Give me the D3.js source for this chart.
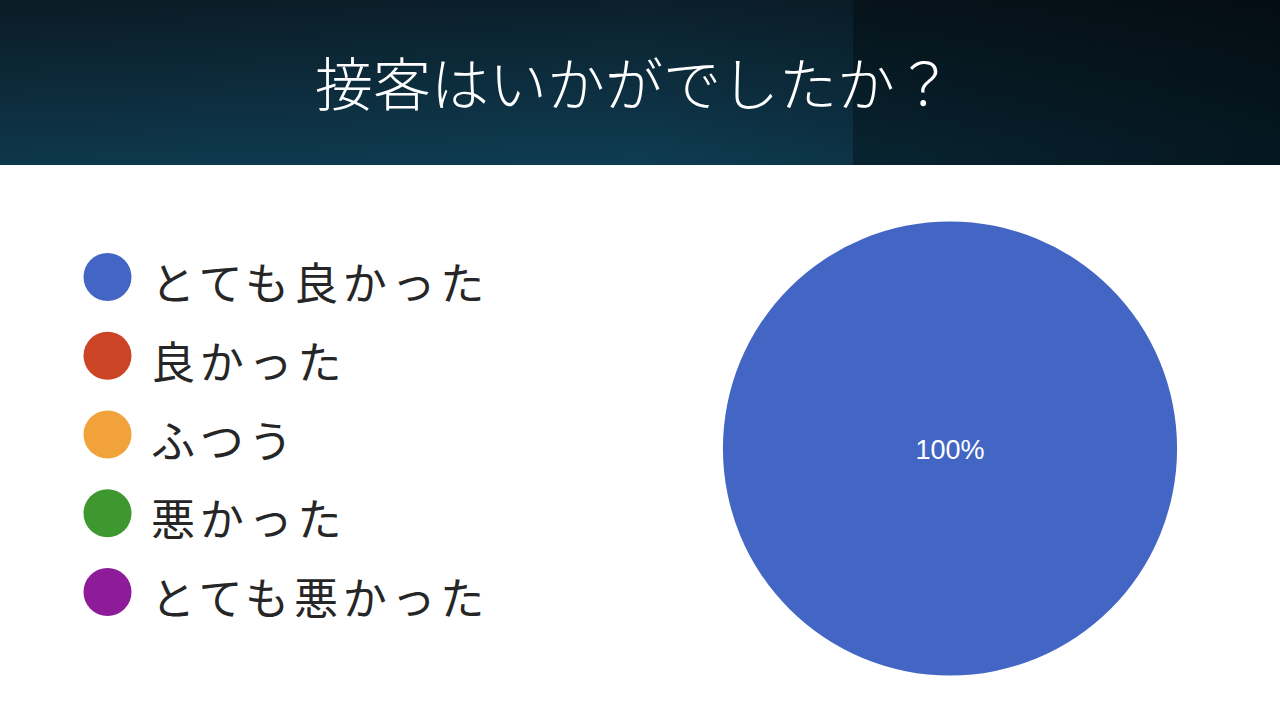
<!DOCTYPE html>
<html>
<head>
<meta charset="utf-8">
<script src="https://cdn.jsdelivr.net/npm/d3@7"></script>
<style>
  html, body { margin: 0; padding: 0; background: #ffffff; }
  svg { display: block; }
</style>
</head>
<body>
<svg id="chart" width="1280" height="720"></svg>
<script>
const title = "接客はいかがでしたか？";
const categories = ["とても良かった", "良かった", "ふつう", "悪かった", "とても悪かった"];
const values = [100, 0, 0, 0, 0];
const colors = ["#4366c4", "#cc4426", "#f2a23b", "#3e982f", "#8e1b99"];

const W = 1280, H = 720;
const svg = d3.select("#chart");
const defs = svg.append("defs");

// Header background
const g1 = defs.append("linearGradient").attr("id", "hdr")
  .attr("x1", "0.2").attr("y1", "0").attr("x2", "0.45").attr("y2", "1");
g1.append("stop").attr("offset", "0").attr("stop-color", "#0b1d28");
g1.append("stop").attr("offset", "1").attr("stop-color", "#0e3c52");
const g2 = defs.append("linearGradient").attr("id", "hdrShade")
  .attr("x1", "0").attr("y1", "0").attr("x2", "1").attr("y2", "0");
g2.append("stop").attr("offset", "0").attr("stop-color", "#000").attr("stop-opacity", 0.03);
g2.append("stop").attr("offset", "0.5").attr("stop-color", "#000").attr("stop-opacity", 0);
g2.append("stop").attr("offset", "1").attr("stop-color", "#000").attr("stop-opacity", 0.45);

const headerH = 165;
svg.append("rect").attr("x", 0).attr("y", 0).attr("width", W).attr("height", headerH).attr("fill", "url(#hdr)");
svg.append("rect").attr("x", 0).attr("y", 0).attr("width", W).attr("height", headerH).attr("fill", "url(#hdrShade)");
svg.append("rect").attr("x", 853).attr("y", 0).attr("width", W - 853).attr("height", headerH)
  .attr("fill", "#000").attr("fill-opacity", 0.3);

svg.append("text")
  .attr("x", 634).attr("y", 81)
  .attr("text-anchor", "middle")
  .attr("dominant-baseline", "central")
  .attr("fill", "#ffffff")
  .style("font-family", "'Noto Sans CJK JP', 'Noto Sans', sans-serif")
  .style("font-weight", 300)
  .style("font-size", "58px")
  .text(title);

// Legend
const legendY = d3.scalePoint().domain(categories).range([277, 592]);
const legend = svg.append("g");
const item = legend.selectAll("g.item").data(categories).join("g")
  .attr("class", "item")
  .attr("transform", d => `translate(0,${legendY(d)})`);
item.append("circle")
  .attr("cx", 107.5).attr("cy", 0).attr("r", 24)
  .attr("fill", (d, i) => colors[i]);
item.append("text")
  .attr("x", 151).attr("y", 4)
  .attr("dominant-baseline", "central")
  .attr("fill", "#262626")
  .style("font-family", "'Noto Sans CJK JP', 'Noto Sans', sans-serif")
  .style("font-size", "44px")
  .style("letter-spacing", "4.8px")
  .text(d => d);

// Pie
const cx = 950, cy = 448.5, R = 227;
const pie = d3.pie().sort(null).value(d => d)(values);
const arc = d3.arc().innerRadius(0).outerRadius(R);
const total = d3.sum(values);
const pg = svg.append("g").attr("transform", `translate(${cx},${cy})`);
pg.selectAll("path").data(pie).join("path")
  .attr("d", arc)
  .attr("fill", (d, i) => colors[i]);
const labelArc = d3.arc().innerRadius(R * 0.5).outerRadius(R * 0.5);
pg.selectAll("text").data(pie.filter(d => d.value > 0)).join("text")
  .attr("transform", d => {
    const full = (d.endAngle - d.startAngle) >= 2 * Math.PI - 1e-6;
    const p = full ? [0, 0] : labelArc.centroid(d);
    return `translate(${p[0]},${p[1] + 1})`;
  })
  .attr("text-anchor", "middle")
  .attr("dominant-baseline", "central")
  .attr("fill", "#ffffff")
  .style("font-family", "'Liberation Sans', Arial, sans-serif")
  .style("font-size", "27px")
  .text(d => Math.round(d.value / total * 100) + "%");
</script>
</body>
</html>
